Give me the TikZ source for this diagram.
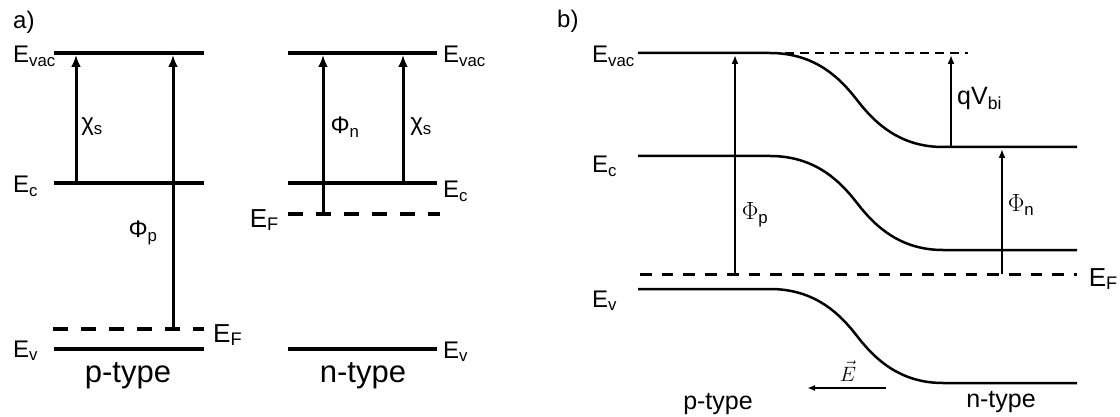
\documentclass[tikz,border=0pt]{standalone}
\usepackage{fontspec}
\setmainfont{Liberation Sans}
\usepackage{tikz}
\usetikzlibrary{arrows.meta}

\begin{document}
\begin{tikzpicture}[
  x=1pt, y=-1pt,
  font=\fontsize{24}{26}\selectfont,
  level/.style={line width=3.8pt},
  fermi/.style={line width=4pt, dash pattern=on 15pt off 13pt},
  gaparrow/.style={-{Latex[length=12pt, width=10pt]}, line width=3pt},
  band/.style={line width=2.5pt},
  bfermi/.style={line width=3pt, dash pattern=on 11.7pt off 10pt},
  vacdash/.style={line width=1.6pt, dash pattern=on 9pt off 6pt},
  barrow/.style={-{Latex[length=9pt, width=7pt]}, line width=2pt},
  lbl/.style={inner sep=0pt, anchor=base west},
  biglbl/.style={inner sep=0pt, anchor=base west, font=\fontsize{26}{28}\selectfont},
  typelbl/.style={inner sep=0pt, anchor=base}
]
  \useasboundingbox (0,0) rectangle (1120,417);

  % a) p-type
  \node[lbl] (atag) at (13,29) {a)};
  \draw[level] (54,53) -- (204,53);
  \draw[level] (54,183) -- (204,183);
  \draw[fermi] (53,329) -- (204,329);
  \draw[level] (54,349) -- (204,349);
  \coordinate (chiP-lo) at (76,183);
  \coordinate (chiP-hi) at (76,55);
  \coordinate (phiP-lo) at (173,329);
  \coordinate (phiP-hi) at (173,55);
  \draw[gaparrow] (chiP-lo) -- (chiP-hi);
  \draw[gaparrow] (phiP-lo) -- (phiP-hi);
  \node[lbl] (evacP) at (13,63) {E\textsubscript{vac}};
  \node[lbl] (ecP) at (13,193) {E\textsubscript{c}};
  \node[lbl] (evP) at (13,357) {E\textsubscript{v}};
  \node[biglbl] (efP) at (213,342) {E\textsubscript{F}};
  \node[inner sep=0pt] (chiP) at (92,127) {χ\textsubscript{s}};
  \node[inner sep=0pt] (phiP) at (143,233) {Φ\textsubscript{p}};
  \node[typelbl, font=\fontsize{31}{33}\selectfont] (ptypeA) at (128,382) {p-type};

  % a) n-type
  \draw[level] (288,53) -- (437,53);
  \draw[level] (288,183) -- (437,183);
  \draw[fermi] (288,214) -- (440,214);
  \draw[level] (288,349) -- (437,349);
  \coordinate (phiN-lo) at (323,214);
  \coordinate (phiN-hi) at (323,55);
  \coordinate (chiN-lo) at (403,183);
  \coordinate (chiN-hi) at (403,55);
  \draw[gaparrow] (phiN-lo) -- (phiN-hi);
  \draw[gaparrow] (chiN-lo) -- (chiN-hi);
  \node[lbl] (evacN) at (443,63) {E\textsubscript{vac}};
  \node[lbl] (ecN) at (443,198) {E\textsubscript{c}};
  \node[lbl] (evN) at (443,358) {E\textsubscript{v}};
  \node[biglbl, anchor=base east] (efN) at (279,227) {E\textsubscript{F}};
  \node[inner sep=0pt] (phiN) at (345,127) {Φ\textsubscript{n}};
  \node[inner sep=0pt] (chiN) at (421,127) {χ\textsubscript{s}};
  \node[typelbl, font=\fontsize{31}{33}\selectfont] (ntypeA) at (363,382) {n-type};

  % b) junction
  \node[lbl] (btag) at (557,28) {b)};
  \draw[band] (638,53) -- (770,53) .. controls +(45,0) and +(-17,-22) .. (857,100)
    .. controls +(17,22) and +(-44,0) .. (943,147) -- (1077,147);
  \draw[band] (638,156) -- (770,156) .. controls +(45,0) and +(-17,-22) .. (857,203)
    .. controls +(17,22) and +(-44,0) .. (943,250) -- (1077,250);
  \draw[band] (638,289) -- (770,289) .. controls +(45,0) and +(-17,-22) .. (857,336)
    .. controls +(17,22) and +(-44,0) .. (943,383) -- (1077,383);
  \draw[vacdash] (785,53) -- (968,53);
  \draw[bfermi] (640,274) -- (1077,274);
  \coordinate (phiPb-lo) at (735,274);
  \coordinate (phiPb-hi) at (735,55);
  \coordinate (vbi-lo) at (951,147);
  \coordinate (vbi-hi) at (951,55);
  \coordinate (phiNb-lo) at (1002,274);
  \coordinate (phiNb-hi) at (1002,149);
  \coordinate (field-r) at (886,388);
  \coordinate (field-l) at (807,388);
  \draw[barrow] (phiPb-lo) -- (phiPb-hi);
  \draw[barrow] (vbi-lo) -- (vbi-hi);
  \draw[barrow] (phiNb-lo) -- (phiNb-hi);
  \draw[-{Latex[length=8pt, width=6pt]}, line width=1.6pt] (field-r) -- (field-l);
  \node[lbl] (evacB) at (592,63) {E\textsubscript{vac}};
  \node[lbl] (ecB) at (592,173) {E\textsubscript{c}};
  \node[lbl] (evB) at (592,307) {E\textsubscript{v}};
  \node[biglbl, anchor=base east] (efB) at (1118,286) {E\textsubscript{F}};
  \node[inner sep=0pt] (phiPb) at (755,215) {$\Phi$\textsubscript{p}};
  \node[lbl, font=\fontsize{25}{27}\selectfont] (vbi) at (957,105) {qV\textsubscript{bi}};
  \node[inner sep=0pt] (phiNb) at (1021,205) {$\Phi$\textsubscript{n}};
  \node[typelbl, font=\fontsize{21}{23}\selectfont] (field) at (848,381) {$\vec{E}$};
  \node[typelbl, font=\fontsize{25}{27}\selectfont] (ptypeB) at (718,409) {p-type};
  \node[typelbl, font=\fontsize{25}{27}\selectfont] (ntypeB) at (1001,407) {n-type};
\end{tikzpicture}
\end{document}
